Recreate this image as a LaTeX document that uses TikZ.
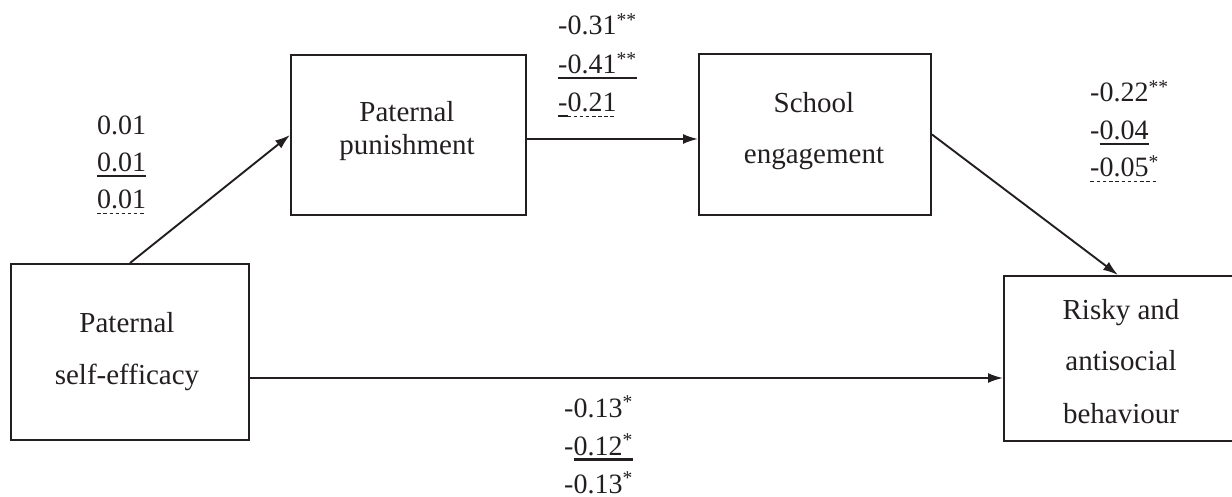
\documentclass[tikz,border=0pt]{standalone}
\usepackage{fontspec}
\setmainfont{Liberation Serif}
\usetikzlibrary{arrows.meta}
\definecolor{ink}{HTML}{231F20}
\newcommand\solidu[1]{\setbox0=\hbox{#1}\rlap{\rule[-5.5bp]{\wd0}{2.4bp}}\box0}
\newcommand\dashu[1]{\setbox0=\hbox{#1}\rlap{\hbox to \wd0{\xleaders\hbox{\rule[-5bp]{3.5bp}{1bp}\hskip2.5bp}\hfill}}\box0}
\begin{document}
\begin{tikzpicture}[x=1bp,y=-1bp,
  box/.style={draw=ink,line width=2bp,anchor=north west,inner sep=0pt},
  btext/.style={anchor=base,inner sep=0pt,text=ink,font=\fontsize{29bp}{34bp}\selectfont},
  lab/.style={anchor=base west,inner sep=0pt,text=ink,font=\fontsize{28bp}{34bp}\selectfont},
  arr/.style={draw=ink,line width=1.9bp,-{Latex[length=15bp,width=10bp]}}]
\useasboundingbox (0,0) rectangle (1232,497);
% boxes
\node[box,minimum width=238bp,minimum height=176bp] (A) at (10,263) {};
\node[box,minimum width=235bp,minimum height=160bp] (B) at (290,54) {};
\node[box,minimum width=232bp,minimum height=161bp] (C) at (698,53) {};
\node[box,minimum width=236bp,minimum height=165bp] (D) at (1003,275) {};
% box texts
\node[btext] (A1) at (127,333) {Paternal};
\node[btext] (A2) at (127,385) {self-efficacy};
\node[btext] (B1) at (407,122) {Paternal};
\node[btext] (B2) at (407,155) {punishment};
\node[btext] (C1) at (814,113) {School};
\node[btext] (C2) at (814,164) {engagement};
\node[btext] (D1) at (1121,320) {Risky and};
\node[btext] (D2) at (1121,371) {antisocial};
\node[btext] (D3) at (1121,423) {behaviour};
% connectors
\draw[arr] (A.north) -- (B.west);
\draw[arr] ([yshift=-4bp]B.east) -- ([yshift=-4bp]B.east -| C.west);
\draw[arr] (C.east) -- ([xshift=-4bp]D.north);
\draw[arr] ([yshift=-26bp]A.east) -- ([yshift=-26bp]A.east -| D.west);
% labels
\node[lab] (g1a) at (97,135) {0.01};
\node[lab] (g1b) at (97,172) {\solidu{0.01}};
\node[lab] (g1c) at (97,209) {\dashu{0.01}};
\node[lab] (g2a) at (558,35) {-0.31\textsuperscript{**}};
\node[lab] (g2b) at (558,74) {\solidu{-0.41\textsuperscript{**}}};
\node[lab] (g2c) at (558,112) {\solidu{-}\dashu{0.21}};
\node[lab] (g3a) at (1090,102) {-0.22\textsuperscript{**}};
\node[lab] (g3b) at (1090,140) {-\solidu{0.04}};
\node[lab] (g3c) at (1090,177) {\dashu{-0.05\textsuperscript{*}}};
\node[lab] (g4a) at (564,417) {-0.13\textsuperscript{*}};
\node[lab] (g4b) at (564,455) {-\solidu{0.12\textsuperscript{*}}};
\node[lab] (g4c) at (564,493) {-0.13\textsuperscript{*}};
\end{tikzpicture}
\end{document}
